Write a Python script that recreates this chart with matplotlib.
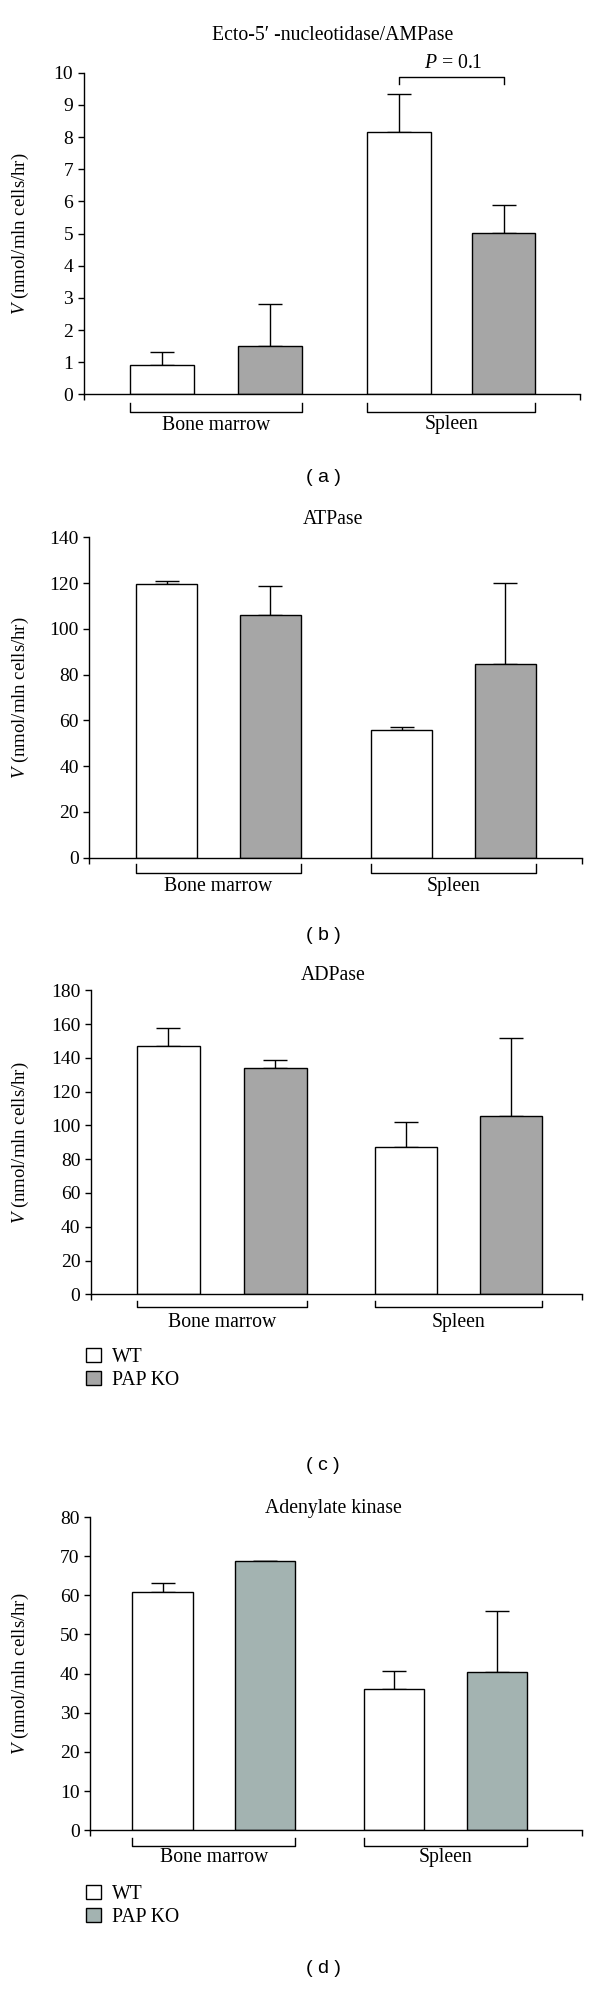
import matplotlib
matplotlib.use("Agg")
import matplotlib.pyplot as plt
from matplotlib.patches import Patch

plt.rcParams['font.family'] = ['Liberation Serif', 'DejaVu Serif']
plt.rcParams['mathtext.fontset'] = 'custom'
plt.rcParams['mathtext.rm'] = 'Liberation Serif'
plt.rcParams['mathtext.it'] = 'Liberation Serif:italic'

# data
groups = ['Bone marrow', 'Spleen']
series = ['WT', 'PAP KO']

amp_wt = [0.93, 8.17]
amp_wt_err = [0.38, 1.17]
amp_ko = [1.52, 5.02]
amp_ko_err = [1.30, 0.88]

atp_wt = [119.8, 55.8]
atp_wt_err = [1.3, 1.2]
atp_ko = [106.2, 84.6]
atp_ko_err = [12.4, 35.6]

adp_wt = [147.2, 87.0]
adp_wt_err = [10.7, 14.8]
adp_ko = [134.0, 105.6]
adp_ko_err = [4.7, 46.2]

ak_wt = [60.85, 36.0]
ak_wt_err = [2.35, 4.6]
ak_ko = [68.8, 40.4]
ak_ko_err = [0.0, 15.5]

W, H = 600, 1994
fig = plt.figure(figsize=(W / 100, H / 100), dpi=100)

FS_TICK = 14
FS_LAB = 14.2
FS_TITLE = 14.2
FS_Y = 13.5
GREY = '#a6a6a6'
GREEN_GREY = '#a3b3b1'


def panel(rect_px, wt, wt_err, ko, ko_err, ymax, ystep, ko_color,
          offsets, xlim, title, title_y, letter, letter_y,
          br_px=(17, 9, 30), legend_y=None):
    xl, xr, yt, y0 = rect_px
    ax = fig.add_axes([xl / W, 1 - y0 / H, (xr - xl) / W, (y0 - yt) / H])
    hpx = y0 - yt
    bw = 0.59
    xw = [offsets[0], offsets[2]]
    xk = [offsets[1], offsets[3]]
    ax.bar(xw, wt, bw, color='white', edgecolor='black', linewidth=1.0, zorder=2)
    ax.bar(xk, ko, bw, color=ko_color, edgecolor='black', linewidth=1.0, zorder=2)
    ax.errorbar(xw, wt, yerr=[[0, 0], wt_err], fmt='none', ecolor='black',
                elinewidth=1.0, capsize=8.5, capthick=1.0, zorder=1)
    ax.errorbar(xk, ko, yerr=[[0, 0], ko_err], fmt='none', ecolor='black',
                elinewidth=1.0, capsize=8.5, capthick=1.0, zorder=1)
    ax.set_xlim(*xlim)
    ax.set_ylim(0, ymax)
    ax.set_yticks(range(0, ymax + 1, ystep))
    ax.set_xticks(list(xlim))
    ax.set_xticklabels([])
    ax.tick_params(axis='both', direction='out', length=4, width=1.0,
                   labelsize=FS_TICK, pad=3.5)
    for s in ['top', 'right']:
        ax.spines[s].set_visible(False)
    for s in ['left', 'bottom']:
        ax.spines[s].set_linewidth(1.0)
    ax.spines['bottom'].set_bounds(*xlim)

    # group brackets under the axis
    line_dy, tick_dy, lab_dy = br_px
    for g in range(2):
        a = xw[g] - bw / 2
        b = xk[g] + bw / 2
        ya = -line_dy / hpx
        yb = -tick_dy / hpx
        ax.plot([a, a, b, b], [yb, ya, ya, yb], color='black', lw=1.0,
                transform=ax.get_xaxis_transform(), clip_on=False)
        ax.text((a + b) / 2, -lab_dy / hpx, groups[g], ha='center', va='center',
                fontsize=FS_LAB, transform=ax.get_xaxis_transform())

    ax.set_ylabel(r'$V$ (nmol/mln cells/hr)', fontsize=FS_Y)
    ax.yaxis.set_label_coords((31 - xl) / (xr - xl), 0.5)

    fig.text(333 / W, 1 - title_y / H, title, ha='center', va='center', fontsize=FS_TITLE)
    fig.text(323 / W, 1 - letter_y / H, '( %s )' % letter, ha='center', va='center',
             fontsize=14, family='Liberation Sans')

    if legend_y is not None:
        handles = [Patch(facecolor='white', edgecolor='black', linewidth=1.0),
                   Patch(facecolor=ko_color, edgecolor='black', linewidth=1.0)]
        fig.legend(handles, series, loc='upper left',
                   bbox_to_anchor=(86 / W, 1 - legend_y / H),
                   bbox_transform=fig.transFigure, frameon=False, fontsize=FS_LAB,
                   handlelength=0.75, handleheight=0.75, handletextpad=0.55,
                   labelspacing=0.2, borderpad=0, borderaxespad=0)
    return ax


ax_a = panel((83.5, 580, 72.7, 394.5), amp_wt, amp_wt_err, amp_ko, amp_ko_err,
             10, 1, GREY, [0, 1, 2.2, 3.17], (-0.73, 3.88),
             'Ecto-5\u2032 -nucleotidase/AMPase', 35, 'a', 477, br_px=(17.5, 9, 30.5))
# P value bracket between the spleen bars
sx = [2.2, 3.17]
ax_a.plot([sx[0], sx[0], sx[1], sx[1]], [9.65, 9.88, 9.88, 9.65], color='black',
          lw=1.0, clip_on=False)
ax_a.text(sum(sx) / 2 + 0.02, 10.3, r'$P$ = 0.1', ha='center', va='center',
          fontsize=FS_TITLE)

panel((89.2, 582, 537.3, 857.7), atp_wt, atp_wt_err, atp_ko, atp_ko_err,
      140, 20, GREY, [0, 1, 2.27, 3.27], (-0.75, 4.01),
      'ATPase', 520, 'b', 935, br_px=(15, 6.6, 29))

panel((90.8, 582, 990.3, 1294.3), adp_wt, adp_wt_err, adp_ko, adp_ko_err,
      180, 20, GREY, [0, 1.01, 2.24, 3.23], (-0.73, 3.9),
      'ADPase', 975, 'c', 1466, br_px=(13, 6.4, 28.4), legend_y=1348)

panel((90, 582, 1517, 1830.3), ak_wt, ak_wt_err, ak_ko, ak_ko_err,
      80, 10, GREEN_GREY, [0, 1, 2.26, 3.27], (-0.71, 4.1),
      'Adenylate kinase', 1509, 'd', 1968, br_px=(15.4, 8, 27.4), legend_y=1885)

fig.savefig('out.png', dpi=100)
